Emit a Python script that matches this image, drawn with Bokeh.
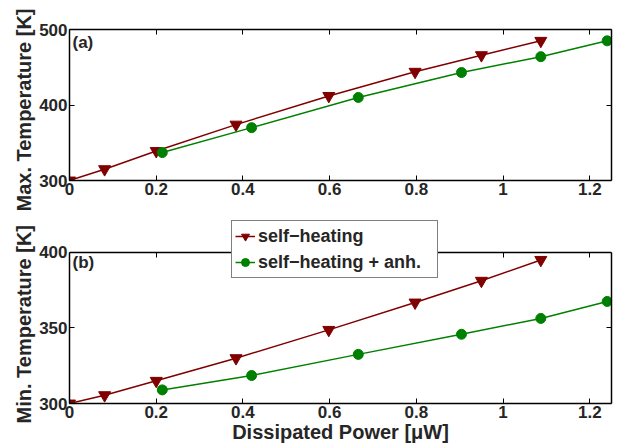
from bokeh.plotting import figure
from bokeh.layouts import column
from bokeh.models import (LinearAxis, Range1d, Legend, LegendItem, Label, FixedTicker, Title)
from bokeh.embed import file_html
from bokeh.resources import INLINE

# ---- data ----
p_sh = [0.0, 0.081, 0.200, 0.384, 0.598, 0.797, 0.950, 1.087]
tmax_sh = [300, 315, 339, 374, 412, 444, 466, 485]
tmin_sh = [300, 305.5, 315, 330, 348.7, 366.8, 381.2, 395]

p_anh = [0.214, 0.420, 0.666, 0.904, 1.087, 1.240]
tmax_anh = [337, 370, 410, 443, 464, 485]
tmin_anh = [309, 318.5, 332.5, 345.8, 356.3, 367.5]

x_ticks = [0, 0.2, 0.4, 0.6, 0.8, 1.0, 1.2]
x_tick_labels = {0: "0", 0.2: "0.2", 0.4: "0.4", 0.6: "0.6", 0.8: "0.8", 1: "1", 1.2: "1.2"}
ya_ticks = [300, 400, 500]
yb_ticks = [300, 350, 400]

RED = "#800000"
GREEN = "#008000"
TXT = "#262626"
FONT = "Liberation Sans"
NAN = float("nan")


def style_axis(ax):
    ax.major_tick_in = 5
    ax.major_tick_out = 0
    ax.minor_tick_line_color = None
    ax.axis_line_width = 1.5
    ax.axis_line_color = "black"
    ax.major_tick_line_width = 1
    ax.major_label_text_font = FONT
    ax.major_label_text_font_style = "bold"
    ax.major_label_text_font_size = "17px"
    ax.major_label_text_color = TXT
    ax.axis_label_text_font = FONT
    ax.axis_label_text_font_style = "bold"
    ax.axis_label_text_font_size = "20px"
    ax.axis_label_text_color = TXT


def box_axis(ticks, **kw):
    return LinearAxis(ticker=FixedTicker(ticks=ticks), major_tick_in=5, major_tick_out=0,
                      minor_tick_line_color=None, axis_line_width=1.5,
                      major_label_overrides={t: "" for t in ticks},
                      major_label_text_font_size="0px", major_label_standoff=0, **kw)


def side_title(text, offset):
    # left-side title starting 'offset' px below the frame bottom
    return Title(text=text, align="left", offset=offset, standoff=3,
                 text_font=FONT, text_font_style="bold", text_font_size="20px",
                 text_color=TXT)


# ---- top panel ----
pa = figure(width=630, height=210, output_backend="svg", toolbar_location=None,
            x_range=Range1d(0, 1.25), y_range=Range1d(300, 500),
            min_border_left=69, min_border_right=19, min_border_top=29, min_border_bottom=30)
for ax in pa.xaxis + pa.yaxis:
    style_axis(ax)
pa.xaxis.ticker = FixedTicker(ticks=x_ticks)
pa.xaxis.major_label_overrides = x_tick_labels
pa.xaxis.major_label_standoff = 2
pa.yaxis.ticker = FixedTicker(ticks=ya_ticks)
pa.yaxis.major_label_standoff = 2
pa.add_layout(side_title("Max. Temperature [K]", -31), "left")
pa.add_layout(box_axis(x_ticks), "above")
pa.add_layout(box_axis(ya_ticks), "right")
pa.grid.visible = False
pa.outline_line_color = None

pa.line(p_sh, tmax_sh, line_color=RED, line_width=1.5)
pa.scatter(p_sh, tmax_sh, marker="inverted_triangle", size=12, fill_color=RED, line_color=RED)
pa.line(p_anh, tmax_anh, line_color=GREEN, line_width=1.5)
pa.scatter(p_anh, tmax_anh, marker="circle", size=10, fill_color=GREEN, line_color=GREEN)
pa.add_layout(Label(x=3, y=138, x_units="screen", y_units="screen", text="(a)",
                    text_font=FONT, text_font_style="bold", text_font_size="17px",
                    text_color=TXT, text_baseline="middle"))

# ---- bottom panel (frame extended upward so the legend can overlap the gap) ----
pb = figure(width=630, height=238, output_backend="svg", toolbar_location=None,
            x_range=Range1d(0, 1.25), y_range=Range1d(300, 427.7),
            min_border_left=69, min_border_right=19, min_border_top=0, min_border_bottom=45)
for ax in pb.xaxis + pb.yaxis:
    style_axis(ax)
pb.xaxis.ticker = FixedTicker(ticks=x_ticks)
pb.xaxis.major_label_overrides = x_tick_labels
pb.xaxis.major_label_standoff = 2
pb.xaxis.axis_label = "Dissipated Power [\u03bcW]"
pb.xaxis.axis_label_standoff = 0
pb.yaxis.ticker = FixedTicker(ticks=yb_ticks)
pb.yaxis.major_label_standoff = 2
pb.yaxis.bounds = (300, 400)
pb.add_layout(side_title("Min. Temperature [K]", -20), "left")
pb.add_layout(box_axis(x_ticks, fixed_location=400), "above")
pb.add_layout(box_axis(yb_ticks, bounds=(300, 400)), "right")
pb.grid.visible = False
pb.outline_line_color = None

l1 = pb.line(p_sh, tmin_sh, line_color=RED, line_width=1.5)
pb.scatter(p_sh, tmin_sh, marker="inverted_triangle", size=12, fill_color=RED, line_color=RED)
l2 = pb.line(p_anh, tmin_anh, line_color=GREEN, line_width=1.5)
pb.scatter(p_anh, tmin_anh, marker="circle", size=10, fill_color=GREEN, line_color=GREEN)
pb.add_layout(Label(x=3, y=141, x_units="screen", y_units="screen", text="(b)",
                    text_font=FONT, text_font_style="bold", text_font_size="17px",
                    text_color=TXT, text_baseline="middle"))

# legend-only small markers (not drawn in the plot area)
lg1 = pb.scatter([NAN], [NAN], marker="inverted_triangle", size=8, fill_color=RED, line_color=RED)
lg2 = pb.scatter([NAN], [NAN], marker="circle", size=7, fill_color=GREEN, line_color=GREEN)

legend = Legend(items=[LegendItem(label="self\u2212heating", renderers=[l1, lg1]),
                       LegendItem(label="self\u2212heating + anh.", renderers=[l2, lg2])],
                location=(162, 125), orientation="vertical",
                label_text_font=FONT, label_text_font_style="bold",
                label_text_font_size="18px", label_text_color=TXT,
                glyph_width=20, glyph_height=24, label_height=24, label_width=176,
                label_standoff=3, padding=3, spacing=2, margin=0,
                border_line_color="black", border_line_width=1,
                background_fill_color="white", background_fill_alpha=1.0)
pb.add_layout(legend, "center")

layout = column(pa, pb, spacing=0)
open("out.html", "w").write(file_html(layout, INLINE))
